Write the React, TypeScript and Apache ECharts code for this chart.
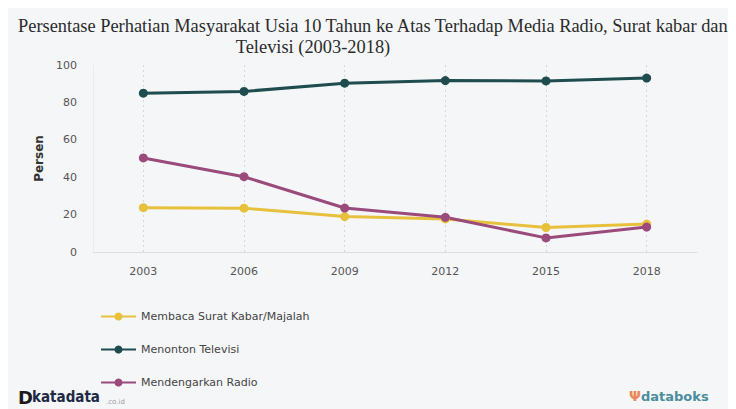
import React, { useEffect, useRef } from "react";
import * as echarts from "echarts";

const years = ["2003", "2006", "2009", "2012", "2015", "2018"];
const membaca = [23.7, 23.46, 18.94, 17.66, 13.11, 14.92];
const televisi = [84.94, 85.86, 90.27, 91.68, 91.47, 93.02];
const radio = [50.29, 40.26, 23.5, 18.57, 7.54, 13.31];
const seriesNames = ["Membaca Surat Kabar/Majalah", "Menonton Televisi", "Mendengarkan Radio"];
const colors = ["#e7c13c", "#1f4c4e", "#9a4a7b"];
const titleLine1 = "Persentase Perhatian Masyarakat Usia 10 Tahun ke Atas Terhadap Media Radio, Surat kabar dan";
const titleLine2 = "Televisi (2003-2018)";

export default function App() {
  const ref = useRef<HTMLDivElement>(null);
  useEffect(() => {
    if (!ref.current) return;
    const chart = echarts.init(ref.current, undefined, { renderer: "svg" });
    const mk = (name: string, data: number[], color: string, withGrid: boolean) => ({
      name,
      type: "line",
      data,
      symbol: "circle",
      symbolSize: 9,
      itemStyle: { color },
      lineStyle: { color, width: 3 },
      z: 3,
      ...(withGrid
        ? {
            markLine: {
              silent: true,
              symbol: "none",
              label: { show: false },
              lineStyle: { color: "#d4d6da", type: [2, 3], width: 1 },
              data: years.map((y) => ({ xAxis: y })),
              z: 1,
            },
          }
        : {}),
    });
    chart.setOption({
      animation: false,
      backgroundColor: "#f5f6f8",
      textStyle: { fontFamily: "DejaVu Sans" },
      graphic: [
        {
          type: "text",
          x: 10,
          y: 18,
          style: { text: titleLine1, font: "18.4px 'Liberation Serif'", fill: "#2b2b2b", textVerticalAlign: "middle" },
        },
        {
          type: "text",
          x: 305,
          y: 39,
          style: { text: titleLine2, font: "18.4px 'Liberation Serif'", fill: "#2b2b2b", textAlign: "center", textVerticalAlign: "middle" },
        },
        {
          type: "text",
          left: 10,
          top: 380,
          style: { text: "D", font: "bold 18px 'DejaVu Sans'", fill: "#1b1b1b" },
        },
        {
          type: "text",
          left: 24,
          top: 381,
          style: { text: "katadata", font: "bold 15px 'DejaVu Sans Condensed', 'DejaVu Sans'", fill: "#1e2a45" },
        },
        {
          type: "text",
          left: 98,
          top: 390,
          style: { text: ".co.id", font: "7px 'DejaVu Sans'", fill: "#999" },
        },
        {
          type: "text",
          left: 621,
          top: 381,
          style: { text: "\u03A8", font: "bold 14px 'DejaVu Sans'", fill: "#e98a5a" },
        },
        {
          type: "text",
          left: 633,
          top: 382,
          style: { text: "databoks", font: "bold 13px 'DejaVu Sans'", fill: "#4b8d9d" },
        },
      ],
      legend: {
        orient: "vertical",
        left: 87,
        top: 298,
        itemGap: 22,
        itemWidth: 35,
        itemHeight: 10,
        textStyle: { color: "#444", fontSize: 11, fontFamily: "DejaVu Sans" },
        data: seriesNames,
      },
      grid: { left: 85, right: 39, top: 57, bottom: 157 },
      xAxis: {
        type: "category",
        data: years,
        boundaryGap: true,
        axisLine: { lineStyle: { color: "#dcdde0" } },
        axisTick: { show: false },
        axisLabel: { color: "#555", fontSize: 11, margin: 14 },
        splitLine: { show: false },
      },
      yAxis: {
        type: "value",
        min: 0,
        max: 100,
        interval: 20,
        name: "Persen",
        nameLocation: "middle",
        nameGap: 46,
        nameTextStyle: { fontWeight: "bold", fontSize: 12, color: "#333" },
        axisLine: { show: true, lineStyle: { color: "#ececee" } },
        axisTick: { show: false },
        axisLabel: { color: "#555", fontSize: 11, margin: 16 },
        splitLine: { show: false },
      },
      series: [
        mk(seriesNames[0], membaca, colors[0], true),
        mk(seriesNames[1], televisi, colors[1], false),
        mk(seriesNames[2], radio, colors[2], false),
      ],
    });
    return () => chart.dispose();
  }, []);
  return <div ref={ref} style={{ width: 728, height: 401 }} />;
}
